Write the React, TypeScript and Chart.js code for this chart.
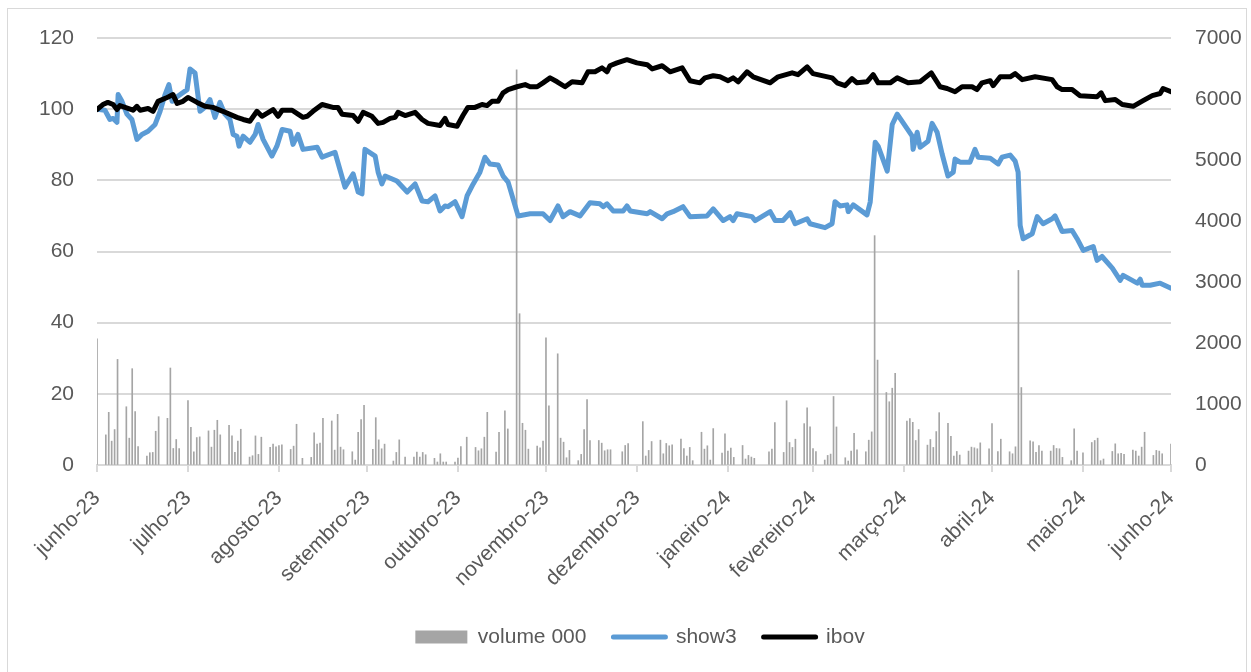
import React, { useEffect, useRef } from "react";
import { Chart, registerables } from "chart.js";
Chart.register(...registerables);

const tickDates = ["2023-06-30", "2023-07-31", "2023-08-31", "2023-09-30", "2023-10-31", "2023-11-30", "2023-12-31", "2024-01-31", "2024-02-29", "2024-03-31", "2024-04-30", "2024-05-31", "2024-06-30"];
const tickLabels = ["junho-23", "julho-23", "agosto-23", "setembro-23", "outubro-23", "novembro-23", "dezembro-23", "janeiro-24", "fevereiro-24", "março-24", "abril-24", "maio-24", "junho-24"];

// days since 2023-06-30
const showDays = [0, 2.7, 4.4, 5.5, 6.8, 7.2, 8.5, 10.2, 11.9, 13.6, 15.3, 17.4, 19.8, 21.5, 23.2, 24.5, 25.6, 27.3, 30.7, 31.7, 33.4, 35.1, 36.8, 38.5, 40.2, 41.9, 43.6, 45.3, 46.4, 47.7, 48.4, 49.8, 52.1, 53.9, 54.9, 56.6, 59.6, 61.3, 63.1, 65.8, 66.8, 68.5, 70.2, 75.0, 76.7, 81.1, 84.5, 87.3, 89.0, 90.3, 91.3, 94.8, 95.8, 97.1, 98.2, 102.2, 105.7, 108.4, 110.8, 112.8, 115.2, 116.9, 118.6, 119.6, 122.0, 124.4, 126.1, 128.2, 130.5, 132.2, 133.9, 136.7, 138.4, 140.1, 143.5, 147.6, 152.0, 154.4, 157.1, 158.8, 161.2, 164.6, 168.0, 171.4, 172.5, 173.8, 175.9, 179.3, 180.6, 181.7, 187.5, 188.5, 192.6, 194.3, 196.3, 199.7, 202.1, 207.9, 210.0, 213.4, 215.7, 216.8, 218.1, 223.2, 224.3, 229.4, 231.1, 233.8, 236.2, 237.9, 242.0, 243.0, 248.1, 250.5, 251.5, 253.2, 255.6, 256.0, 257.7, 262.4, 263.5, 265.2, 266.2, 269.3, 271.0, 272.7, 277.8, 278.1, 279.5, 280.5, 283.2, 284.6, 286.3, 288.0, 290.0, 291.8, 292.4, 294.1, 297.5, 299.2, 300.3, 304.4, 307.1, 308.4, 311.2, 312.9, 313.9, 314.6, 315.6, 318.7, 320.4, 322.4, 325.5, 326.5, 328.9, 332.3, 334.0, 336.1, 339.5, 340.8, 342.5, 346.0, 348.7, 349.7, 354.5, 355.5, 356.2, 358.9, 362.3, 366];
const showVals = [100, 99.7, 97.1, 97.4, 96.3, 104.1, 102.2, 98.6, 97.1, 91.5, 92.9, 93.8, 95.7, 99.4, 104.1, 106.9, 102.2, 103.5, 105.5, 111.3, 110.2, 99.4, 100.5, 102.7, 97.7, 101.9, 98.6, 97.1, 92.9, 92.4, 89.6, 92.4, 90.7, 92.9, 95.7, 91.5, 86.8, 89.6, 94.3, 93.8, 90.1, 92.9, 88.7, 89.3, 86.5, 87.9, 78.1, 81.8, 76.7, 76.2, 88.7, 86.8, 82.3, 79.0, 81.2, 79.8, 76.7, 79.0, 74.2, 74.0, 75.6, 71.4, 72.8, 72.6, 74.0, 69.8, 75.6, 79.0, 82.3, 86.5, 84.6, 84.3, 81.2, 79.5, 70.0, 70.6, 70.6, 68.7, 72.8, 69.8, 71.2, 70.0, 73.7, 73.4, 72.6, 73.4, 71.4, 71.4, 72.8, 71.4, 70.6, 71.2, 69.2, 70.6, 71.2, 72.6, 69.8, 70.0, 72.0, 68.7, 69.8, 68.7, 70.6, 69.8, 68.7, 71.2, 68.7, 68.7, 70.9, 67.8, 69.2, 67.8, 66.7, 67.8, 74.0, 72.8, 73.1, 71.2, 73.1, 70.3, 73.9, 90.7, 89.6, 82.6, 95.7, 98.6, 92.4, 88.7, 93.5, 89.3, 91.0, 96.0, 93.5, 87.4, 81.2, 82.3, 86.0, 85.1, 85.1, 88.7, 86.5, 86.2, 84.6, 86.5, 87.1, 85.4, 82.3, 67.3, 63.6, 65.0, 69.8, 67.8, 69.2, 70.0, 65.6, 65.9, 63.6, 60.3, 61.4, 57.5, 58.6, 55.3, 51.9, 53.3, 51.1, 52.2, 50.5, 50.5, 51.1, 49.7];

const ibovDays = [0, 2.0, 3.7, 5.5, 6.8, 7.8, 12.3, 13.6, 14.7, 17.4, 19.1, 20.8, 23.9, 25.9, 27.3, 29.3, 31.0, 34.1, 36.8, 39.5, 42.9, 47.7, 49.8, 52.1, 54.5, 56.2, 60.0, 61.7, 63.1, 66.5, 68.5, 70.2, 71.6, 73.6, 76.7, 80.4, 82.1, 83.5, 87.3, 89.0, 90.7, 93.7, 95.8, 97.5, 99.9, 101.6, 102.6, 105.0, 108.4, 110.8, 112.8, 116.9, 118.6, 119.6, 122.7, 124.7, 126.4, 128.8, 131.2, 132.9, 134.6, 136.7, 138.4, 140.1, 143.1, 145.9, 147.6, 150.0, 152.0, 154.4, 156.8, 159.5, 161.9, 165.3, 167.3, 169.7, 172.1, 173.8, 174.8, 177.2, 180.6, 184.0, 187.5, 189.2, 192.6, 195.3, 199.4, 202.1, 205.5, 207.2, 210.0, 212.3, 215.1, 216.8, 218.5, 221.5, 223.6, 229.4, 232.1, 236.9, 238.9, 242.0, 244.0, 250.5, 252.2, 254.9, 257.3, 259.0, 262.4, 264.5, 266.2, 270.3, 272.7, 276.4, 280.5, 284.3, 287.3, 289.7, 292.4, 294.8, 298.2, 299.9, 301.6, 304.4, 305.4, 307.8, 311.2, 312.9, 315.3, 319.7, 325.5, 327.2, 328.9, 332.3, 335.0, 340.8, 342.2, 343.6, 347.0, 349.4, 353.1, 356.5, 359.6, 362.3, 363.3, 366];
const ibovVals = [99.9, 101.3, 101.9, 101.3, 99.9, 101.0, 99.7, 100.8, 99.7, 100.2, 99.4, 102.2, 103.3, 104.1, 101.6, 102.2, 103.3, 101.9, 100.8, 100.5, 99.4, 97.7, 97.1, 96.6, 99.4, 98.0, 99.9, 98.0, 99.7, 99.7, 98.6, 97.7, 98.0, 99.4, 101.3, 100.5, 100.5, 98.6, 98.2, 96.6, 99.1, 98.0, 96.0, 96.3, 97.4, 97.7, 99.1, 98.2, 99.1, 97.1, 96.0, 95.4, 97.4, 95.7, 95.2, 98.2, 100.5, 100.5, 101.3, 101.0, 102.2, 102.2, 104.6, 105.5, 106.3, 106.9, 106.3, 106.3, 107.4, 108.8, 107.7, 106.3, 107.7, 107.4, 110.5, 110.5, 111.6, 110.5, 112.2, 113.0, 113.9, 113.0, 112.5, 111.3, 112.2, 110.5, 111.6, 108.0, 107.4, 108.8, 109.4, 109.1, 108.0, 108.8, 107.7, 110.5, 109.1, 107.4, 109.1, 110.2, 109.7, 111.9, 110.0, 108.8, 107.4, 106.6, 108.6, 107.4, 107.7, 109.7, 107.4, 107.4, 108.8, 107.4, 107.7, 110.2, 106.3, 105.8, 104.9, 106.3, 106.3, 105.5, 107.4, 108.0, 106.6, 109.1, 109.1, 110.0, 108.3, 109.1, 108.3, 106.3, 105.5, 105.5, 103.8, 103.5, 104.6, 102.4, 102.7, 101.3, 100.8, 102.4, 103.8, 104.4, 105.8, 104.9];

const volDays = [0, 3, 4, 5, 6, 7, 10, 11, 12, 13, 14, 17, 18, 19, 20, 21, 24, 25, 26, 27, 28, 31, 32, 33, 34, 35, 38, 39, 40, 41, 42, 45, 46, 47, 48, 49, 52, 53, 54, 55, 56, 59, 60, 61, 62, 63, 66, 67, 68, 70, 73, 74, 75, 76, 77, 80, 81, 82, 83, 84, 87, 88, 89, 90, 91, 94, 95, 96, 97, 98, 101, 102, 103, 105, 108, 109, 110, 111, 112, 115, 116, 117, 118, 119, 122, 123, 124, 126, 129, 130, 131, 132, 133, 136, 137, 139, 140, 143, 144, 145, 146, 147, 150, 151, 152, 153, 154, 157, 158, 159, 160, 161, 164, 165, 166, 167, 168, 171, 172, 173, 174, 175, 179, 180, 181, 186, 187, 188, 189, 192, 193, 194, 195, 196, 199, 200, 201, 202, 203, 206, 207, 208, 209, 210, 213, 214, 215, 216, 217, 220, 221, 222, 223, 224, 229, 230, 231, 234, 235, 236, 237, 238, 241, 242, 243, 244, 245, 248, 249, 250, 251, 252, 255, 256, 257, 258, 259, 262, 263, 264, 265, 266, 269, 270, 271, 272, 276, 277, 278, 279, 280, 283, 284, 285, 286, 287, 290, 291, 292, 293, 294, 297, 298, 299, 300, 301, 304, 305, 307, 308, 311, 312, 313, 314, 315, 318, 319, 320, 321, 322, 325, 326, 327, 328, 329, 332, 333, 334, 336, 339, 340, 341, 342, 343, 346, 347, 348, 349, 350, 353, 354, 355, 356, 357, 360, 361, 362, 363, 366];
const volVals = [2067, 494, 863, 391, 581, 1731, 955, 440, 1579, 874, 304, 147, 201, 206, 553, 792, 765, 1590, 271, 418, 271, 1058, 619, 217, 450, 461, 559, 293, 570, 733, 494, 651, 477, 206, 391, 586, 130, 152, 477, 174, 456, 288, 342, 298, 320, 331, 255, 309, 668, 109, 125, 526, 342, 358, 765, 722, 244, 830, 293, 250, 217, 81, 537, 744, 977, 255, 776, 412, 266, 342, 65, 206, 412, 130, 130, 212, 130, 206, 168, 109, 49, 184, 49, 49, 49, 114, 304, 456, 288, 233, 266, 456, 863, 212, 537, 890, 591, 6480, 2480, 684, 570, 260, 309, 282, 391, 2084, 971, 1823, 440, 374, 119, 239, 71, 174, 581, 1074, 402, 402, 358, 233, 250, 250, 217, 320, 353, 711, 147, 239, 385, 407, 184, 353, 315, 331, 423, 271, 147, 288, 71, 537, 260, 315, 81, 597, 195, 510, 228, 277, 125, 320, 98, 157, 130, 109, 217, 260, 695, 206, 1053, 369, 288, 423, 678, 939, 624, 271, 222, 81, 157, 179, 1123, 624, 119, 65, 228, 521, 250, 217, 407, 543, 3760, 1720, 1189, 1037, 1259, 1503, 722, 760, 700, 402, 581, 326, 418, 288, 548, 858, 684, 472, 147, 222, 163, 228, 293, 282, 266, 363, 266, 678, 222, 423, 217, 184, 298, 3190, 1270, 396, 380, 206, 320, 228, 228, 320, 271, 266, 125, 71, 591, 228, 201, 369, 402, 440, 71, 98, 222, 347, 184, 190, 174, 244, 228, 147, 293, 537, 157, 239, 228, 184, 342];

const START = Date.UTC(2023, 5, 30);
const dayOf = (s: string) => Math.round((Date.parse(s) - START) / 86400000);

const FONT = "'Liberation Sans', Arial, sans-serif";
const GRID = "#d9d9d9";
const TEXT = "#595959";
const CLEAR = "rgba(0,0,0,0)";

export default function App() {
  const ref = useRef<HTMLCanvasElement>(null);
  useEffect(() => {
    const tickDays = tickDates.map(dayOf);
    const chart = new Chart(ref.current as HTMLCanvasElement, {
      type: "bar",
      data: {
        datasets: [
          {
            type: "bar",
            label: "volume 000",
            data: volDays.map((d, i) => ({ x: d, y: volVals[i] })),
            yAxisID: "y1",
            backgroundColor: "#a5a5a5",
            borderWidth: 0,
            barThickness: 1,
            order: 2,
          } as any,
          {
            type: "line",
            label: "show3",
            data: showDays.map((d, i) => ({ x: d, y: showVals[i] })),
            yAxisID: "y",
            borderColor: "#5b9bd5",
            backgroundColor: "#5b9bd5",
            borderWidth: 5,
            pointRadius: 0,
            tension: 0,
            borderJoinStyle: "round",
            borderCapStyle: "round",
            order: 1,
          } as any,
          {
            type: "line",
            label: "ibov",
            data: ibovDays.map((d, i) => ({ x: d, y: ibovVals[i] })),
            yAxisID: "y",
            borderColor: "#000000",
            backgroundColor: "#000000",
            borderWidth: 5,
            pointRadius: 0,
            tension: 0,
            borderJoinStyle: "round",
            borderCapStyle: "round",
            order: 0,
          } as any,
        ],
      },
      options: {
        responsive: false,
        animation: false,
        layout: { padding: { left: 26, right: 0, top: 29, bottom: 13.5 } },
        plugins: {
          tooltip: { enabled: false },
          legend: {
            position: "bottom",
            labels: {
              usePointStyle: true,
              pointStyleWidth: 52,
              boxHeight: 13,
              padding: 27,
              color: TEXT,
              font: { family: FONT, size: 21 },
              generateLabels: (c: any) => {
                const items = (Chart.defaults.plugins.legend.labels as any).generateLabels(c);
                items.sort((a: any, b: any) => a.datasetIndex - b.datasetIndex);
                items.forEach((it: any) => {
                  if (it.datasetIndex === 0) {
                    it.pointStyle = "rect";
                    it.lineWidth = 0;
                    it.fillStyle = "#a5a5a5";
                  } else {
                    it.pointStyle = "line";
                    it.lineWidth = 5;
                    it.lineCap = "round";
                  }
                });
                return items;
              },
            },
          },
        },
        scales: {
          x: {
            type: "linear",
            min: 0,
            max: 366,
            offset: false,
            afterBuildTicks: (s: any) => {
              s.ticks = tickDays.map((v) => ({ value: v }));
            },
            afterFit: (s: any) => {
              s.height = 134.5;
            },
            grid: { drawOnChartArea: false, drawTicks: true, tickLength: 7, color: GRID, lineWidth: 2, offset: false },
            border: { display: true, color: GRID, width: 2 },
            ticks: {
              autoSkip: false,
              minRotation: 45,
              maxRotation: 45,
              padding: 14,
              color: TEXT,
              font: { family: FONT, size: 21 },
              callback: (v: any) => {
                const i = tickDays.indexOf(Number(v));
                return i >= 0 ? tickLabels[i] : "";
              },
            },
          },
          y: {
            type: "linear",
            position: "left",
            min: 0,
            max: 120,
            afterFit: (s: any) => {
              s.width = 63;
            },
            grid: { color: GRID, lineWidth: 2, drawTicks: true, tickLength: 23, tickColor: CLEAR },
            border: { display: false },
            ticks: { stepSize: 20, padding: 0, color: TEXT, font: { family: FONT, size: 21 } },
          },
          y1: {
            type: "linear",
            position: "right",
            min: 0,
            max: 7000,
            afterFit: (s: any) => {
              s.width = 75;
            },
            grid: { drawOnChartArea: false, drawTicks: true, tickLength: 24, tickColor: CLEAR },
            border: { display: false },
            ticks: {
              stepSize: 1000,
              padding: 0,
              color: TEXT,
              font: { family: FONT, size: 21 },
              callback: (v: any) => String(v),
            },
          },
        },
      } as any,
    });
    return () => chart.destroy();
  }, []);
  return (
    <div
      style={{
        position: "fixed",
        left: 7,
        top: 8,
        width: 1238,
        height: 680,
        border: "1px solid #d9d9d9",
        background: "#fff",
      }}
    >
      <canvas ref={ref} width={1238} height={662} style={{ display: "block", width: 1238, height: 662 }} />
    </div>
  );
}
